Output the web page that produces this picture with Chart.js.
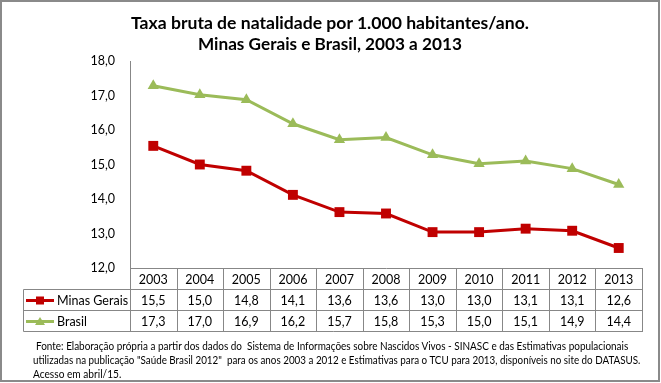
<!DOCTYPE html>
<html><head><meta charset="utf-8">
<script src="https://cdn.jsdelivr.net/npm/chart.js@4/dist/chart.umd.min.js"></script>
<style>
html,body{margin:0;padding:0;background:#fff;}
#wrap{position:relative;width:661px;height:383px;overflow:hidden;font-family:Lato,"Open Sans",sans-serif;}
canvas{position:absolute;left:0;top:0;}
#frame{position:absolute;left:0;top:0;width:660px;height:382px;box-sizing:border-box;border:2px solid #8a8a8a;pointer-events:none;}
.fit{position:absolute;white-space:pre;transform-origin:0 50%;color:#000;line-height:1.2;}
.title{font-weight:bold;font-size:17.5px;}
.foot{font-size:10.5px;}
</style></head>
<body><div id="wrap">
<canvas id="c" width="661" height="383"></canvas>
<div class="fit title" id="t1" data-x="131" data-w="398" data-cy="22">Taxa bruta de natalidade por 1.000 habitantes/ano.</div>
<div class="fit title" id="t2" data-x="198" data-w="264" data-cy="43">Minas Gerais e Brasil, 2003 a 2013</div>
<div class="fit foot" id="f1" data-x="36" data-w="592" data-cy="346">Fonte: Elaboração própria a partir dos dados do  Sistema de Informações sobre Nascidos Vivos - SINASC e das Estimativas populacionais</div>
<div class="fit foot" id="f2" data-x="33" data-w="607" data-cy="360">utilizadas na publicação "Saúde Brasil 2012"  para os anos 2003 a 2012 e Estimativas para o TCU para 2013, disponíveis no site do DATASUS.</div>
<div class="fit foot" id="f3" data-x="33" data-w="88" data-cy="374">Acesso em abril/15.</div>
<div id="frame"></div>
</div>
<script>
const years = ['2003','2004','2005','2006','2007','2008','2009','2010','2011','2012','2013'];
const minasGerais = [15.54, 15.0, 14.82, 14.12, 13.62, 13.58, 13.04, 13.04, 13.14, 13.08, 12.58];
const brasil = [17.28, 17.02, 16.88, 16.18, 15.72, 15.78, 15.28, 15.02, 15.1, 14.88, 14.42];
const seriesNames = ['Minas Gerais', 'Brasil'];
const yMin = 12, yMax = 18, yStep = 1;

const RED = '#C00000', GREEN = '#9BBB59', GRID = '#878787';
const fmt = v => v.toFixed(1).replace('.', ',');

// fit text elements
document.querySelectorAll('.fit').forEach(el => {
  const w = el.offsetWidth, h = el.offsetHeight;
  const s = (+el.dataset.w) / w;
  el.style.left = el.dataset.x + 'px';
  el.style.top = (+el.dataset.cy - h / 2) + 'px';
  el.style.transform = 'scaleX(' + s + ')';
});

function drawMarker(ctx, type, x, y, color) {
  ctx.fillStyle = color;
  if (type === 'rect') {
    ctx.fillRect(x - 4, y - 4, 8, 8);
  } else {
    ctx.beginPath();
    ctx.moveTo(x, y - 4.5);
    ctx.lineTo(x + 5, y + 3.5);
    ctx.lineTo(x - 5, y + 3.5);
    ctx.closePath();
    ctx.fill();
  }
}

const tablePlugin = {
  id: 'dataTable',
  afterDraw(chart) {
    const ctx = chart.ctx, xs = chart.scales.x, area = chart.chartArea;
    const n = years.length;
    const step = xs.getPixelForValue(1) - xs.getPixelForValue(0);
    const left0 = xs.getPixelForValue(0) - step / 2;
    const right = xs.getPixelForValue(n - 1) + step / 2;
    const top = area.bottom;
    const rows = [top, top + 20.5, top + 41.5, top + 62.5].map(v => Math.round(v) + 0.5);
    const tableLeft = 23.5;
    ctx.save();
    ctx.strokeStyle = GRID;
    ctx.lineWidth = 1;
    ctx.beginPath();
    // header top
    ctx.moveTo(Math.round(left0), rows[0]); ctx.lineTo(Math.round(right) + 1, rows[0]);
    for (let r = 1; r < 4; r++) { ctx.moveTo(tableLeft, rows[r]); ctx.lineTo(Math.round(right) + 1, rows[r]); }
    for (let i = 0; i <= n; i++) {
      const x = Math.round(left0 + i * step) + 0.5;
      ctx.moveTo(x, rows[0]); ctx.lineTo(x, rows[3]);
    }
    ctx.moveTo(tableLeft, rows[1]); ctx.lineTo(tableLeft, rows[3]);
    ctx.stroke();

    ctx.fillStyle = '#000';
    ctx.font = '12.5px Lato';
    ctx.textAlign = 'center';
    ctx.textBaseline = 'middle';
    const cy = [0, 1, 2].map(r => (rows[r] + rows[r + 1]) / 2 + 0.5);
    for (let i = 0; i < n; i++) {
      const x = xs.getPixelForValue(i);
      ctx.fillText(years[i], x, cy[0]);
      ctx.fillText(fmt(minasGerais[i]), x, cy[1]);
      ctx.fillText(fmt(brasil[i]), x, cy[2]);
    }
    // legend keys
    const keys = [[seriesNames[0], RED, 'rect', cy[1]], [seriesNames[1], GREEN, 'triangle', cy[2]]];
    keys.forEach(([name, color, type, y]) => {
      ctx.strokeStyle = color; ctx.lineWidth = 3;
      ctx.beginPath(); ctx.moveTo(26, y); ctx.lineTo(54, y); ctx.stroke();
      drawMarker(ctx, type, 40, y, color);
      ctx.fillStyle = '#000';
      ctx.textAlign = 'left';
      ctx.fillText(name, 57, y);
    });
    ctx.restore();
  }
};

Chart.defaults.font.family = 'Lato';
new Chart(document.getElementById('c'), {
  type: 'line',
  data: {
    labels: years,
    datasets: [
      { label: seriesNames[0], data: minasGerais, borderColor: RED, backgroundColor: RED,
        borderWidth: 3, pointStyle: 'rect', pointRadius: 7, pointHoverRadius: 7, pointBorderWidth: 0, tension: 0 },
      { label: seriesNames[1], data: brasil, borderColor: GREEN, backgroundColor: GREEN,
        borderWidth: 3, pointStyle: 'triangle', pointRadius: 6.5, pointHoverRadius: 6.5, pointBorderWidth: 0, tension: 0 }
    ]
  },
  options: {
    responsive: false,
    animation: false,
    devicePixelRatio: 1,
    layout: { padding: { left: 0, right: 19, top: 61, bottom: 115 } },
    plugins: { legend: { display: false }, tooltip: { enabled: false }, title: { display: false } },
    scales: {
      x: { type: 'category', offset: true, display: false },
      y: {
        min: yMin, max: yMax,
        afterFit(scale) { scale.width = 130; },
        grid: { display: false, drawTicks: false },
        border: { display: true, color: GRID, width: 1 },
        ticks: { stepSize: yStep, padding: 15, color: '#000', font: { size: 12.5 },
          callback: v => fmt(v) }
      }
    }
  },
  plugins: [tablePlugin]
});
</script>
</body></html>
